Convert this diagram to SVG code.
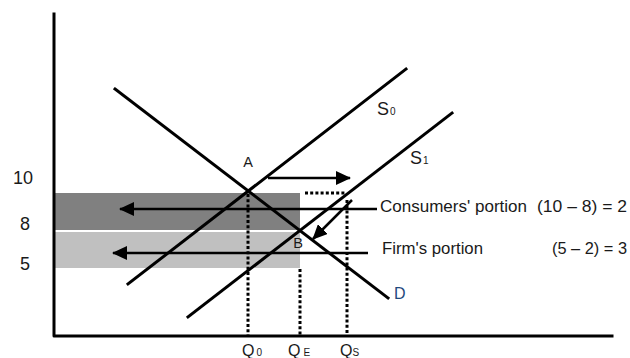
<svg xmlns="http://www.w3.org/2000/svg" width="630" height="358" viewBox="0 0 630 358">
<style>
.ln{stroke:#000;stroke-width:3;fill:none;stroke-linecap:square}
.dot{stroke:#000;stroke-width:3;fill:none;stroke-dasharray:3 2.2}
.arr{stroke:#000;stroke-width:2.5;fill:none;marker-end:url(#ah)}
.t{font-family:"Liberation Sans",Arial,sans-serif;fill:#1a1a1a}
</style>
<defs>
<marker id="ah" markerUnits="userSpaceOnUse" markerWidth="16" markerHeight="14" refX="14" refY="7" orient="auto">
<path d="M0,0 L15,7 L0,14 Z" fill="#000"/>
</marker>
</defs>
<rect width="630" height="358" fill="#fff"/>
<g id="bands">
<rect x="55" y="193" width="245" height="37" fill="#808080"/>
<rect x="55" y="232" width="245" height="36" fill="#c0c0c0"/>
</g>
<g id="axes">
<path class="ln" d="M54,14 L54,336 L612,336" stroke-linejoin="round"/>
</g>
<g id="curves">
<line id="D" class="ln" x1="115" y1="89" x2="388" y2="298"/>
<line id="S0" class="ln" x1="128" y1="284" x2="406" y2="69"/>
<line id="S1" class="ln" x1="188" y1="317" x2="452" y2="113"/>
</g>
<g id="connectors">
<line class="dot" x1="248" y1="194" x2="248" y2="335"/>
<line class="dot" x1="300" y1="269" x2="300" y2="335"/>
<line class="dot" x1="347" y1="200" x2="347" y2="335"/>
<line class="dot" x1="305" y1="193" x2="346" y2="193"/>
<line class="arr" x1="377" y1="209" x2="120" y2="209"/>
<line class="arr" x1="368" y1="253" x2="113" y2="253"/>
<line class="arr" x1="268" y1="178" x2="350" y2="178"/>
<line class="arr" x1="352" y1="200" x2="313" y2="239"/>
</g>
<g id="labels">
<text class="t" x="23" y="184" font-size="18" text-anchor="middle">10</text>
<text class="t" x="25" y="230" font-size="18" text-anchor="middle">8</text>
<text class="t" x="25" y="270" font-size="18" text-anchor="middle">5</text>
<text class="t" x="248" y="167" font-size="14.5" text-anchor="middle">A</text>
<text class="t" x="298" y="248" font-size="14.5" text-anchor="middle">B</text>
<text class="t" x="377" y="115" font-size="18">S<tspan font-size="10" dx="1">0</tspan></text>
<text class="t" x="410" y="164" font-size="18">S<tspan font-size="10" dx="1">1</tspan></text>
<text class="t" x="394" y="299" font-size="16" fill="#1f497d" style="fill:#1f497d">D</text>
<text class="t" x="242" y="356" font-size="16">Q<tspan font-size="10" dx="2">0</tspan></text>
<text class="t" x="288" y="356" font-size="16">Q<tspan font-size="10" dx="3">E</tspan></text>
<text class="t" x="340" y="356" font-size="16">Q<tspan font-size="10" dx="0">S</tspan></text>
<text class="t" x="380" y="212" font-size="17" textLength="147" lengthAdjust="spacingAndGlyphs">Consumers' portion</text>
<text class="t" x="537" y="212" font-size="17" textLength="90" lengthAdjust="spacingAndGlyphs">(10 – 8) = 2</text>
<text class="t" x="382" y="254" font-size="17" textLength="101" lengthAdjust="spacingAndGlyphs">Firm's portion</text>
<text class="t" x="552" y="254" font-size="17" textLength="75" lengthAdjust="spacingAndGlyphs">(5 – 2) = 3</text>
</g>
</svg>
